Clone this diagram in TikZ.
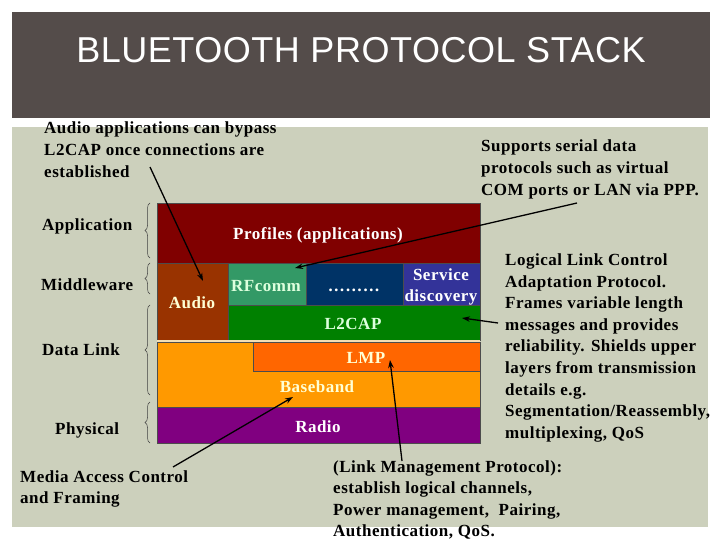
\documentclass[tikz,border=0pt]{standalone}
\usepackage{fontspec}
\setmainfont{Liberation Serif}
\newfontfamily\annofont{Liberation Serif}[LetterSpace=3]
\newfontfamily\titlefont{Liberation Sans}[LetterSpace=1.5]
\usetikzlibrary{arrows.meta,decorations.pathreplacing}
\definecolor{titlebg}{HTML}{544C4A}
\definecolor{panelbg}{HTML}{CCD0BC}
\definecolor{cprof}{HTML}{800000}
\definecolor{caudio}{HTML}{993300}
\definecolor{crfc}{HTML}{339966}
\definecolor{cdots}{HTML}{003366}
\definecolor{csd}{HTML}{333399}
\definecolor{cltwo}{HTML}{008000}
\definecolor{cbase}{HTML}{FF9900}
\definecolor{clmp}{HTML}{FF6600}
\definecolor{cradio}{HTML}{800080}
\definecolor{cgap}{HTML}{F2DEB4}
\definecolor{cream}{HTML}{FFFFD4}
\definecolor{mint}{HTML}{DDFFDD}
\newcommand{\mylines}[1]{\begin{tabular}[t]{@{}l@{}}#1\end{tabular}}
\begin{document}
\begin{tikzpicture}[x=1pt,y=-1pt,
  blk/.style={draw=black!70,line width=0.6pt,inner sep=0pt,outer sep=0pt,anchor=north west},
  txt/.style={inner sep=0pt,font=\annofont\bfseries\fontsize{17}{21.6}\selectfont},
  anno/.style={txt,anchor=base west,text=black},
  blab/.style={txt,anchor=base},
  brc/.style={draw=black!75,line width=0.5pt,decorate,decoration={brace,amplitude=5pt}},
  arr/.style={draw=black,line width=1.3pt,-{Stealth[length=8pt,width=5.5pt]}}]
\useasboundingbox (0,0) rectangle (720,540);
\fill[white] (0,0) rectangle (720,540);
% title bar and panel
\fill[titlebg] (12,12) rectangle (710,118);
\fill[panelbg] (12,127) rectangle (708,527);
\node[anchor=base,inner sep=0pt,text=white,font=\titlefont\fontsize{36}{36}\selectfont] (title) at (361,63) {BLUETOOTH PROTOCOL STACK};
% stack blocks
\node[blk,fill=cprof,minimum width=323pt,minimum height=60pt] (prof) at (157,203) {};
\node[blk,fill=caudio,minimum width=71pt,minimum height=77pt] (audio) at (157,263) {};
\node[blk,fill=crfc,minimum width=78pt,minimum height=42pt] (rfc) at (228,263) {};
\node[blk,fill=cdots,minimum width=97pt,minimum height=42pt] (dots) at (306,263) {};
\node[blk,fill=csd,minimum width=77pt,minimum height=42pt] (sd) at (403,263) {};
\node[blk,fill=cltwo,minimum width=252pt,minimum height=35pt] (ltwo) at (228,305) {};
\node[anchor=north west,fill=cgap,inner sep=0pt,minimum width=323pt,minimum height=2pt] (gap) at (157,340) {};
\node[blk,fill=cbase,minimum width=323pt,minimum height=65pt] (base) at (157,342) {};
\node[blk,fill=clmp,minimum width=227pt,minimum height=29pt] (lmp) at (253,342) {};
\node[blk,fill=cradio,minimum width=323pt,minimum height=36pt] (radio) at (157,407) {};
% block labels
\node[blab,text=white] (tprof) at (318,239.5) {Profiles (applications)};
\node[blab,text=cream] (taudio) at (192,308) {Audio};
\node[blab,text=mint] (trfc) at (266,291) {RFcomm};
\node[blab,text=white] (tdots) at (354,291) {………};
\node[blab,text=white] (tsd1) at (441,280) {Service};
\node[blab,text=white] (tsd2) at (441,301) {discovery};
\node[blab,text=mint] (tltwo) at (353,329) {L2CAP};
\node[blab,text=cream] (tlmp) at (366,363) {LMP};
\node[blab,text=cream] (tbase) at (317,392) {Baseband};
\node[blab,text=white] (tradio) at (318,432) {Radio};
% layer labels and braces
\node[anno] (lapp) at (42,230) {Application};
\node[anno] (lmid) at (41,290) {Middleware};
\node[anno] (ldl) at (42,355) {Data Link};
\node[anno] (lphy) at (55,434) {Physical};
\draw[brc] (150,258) -- (150,203);
\draw[brc] (150,294) -- (150,263);
\draw[brc] (150,395) -- (150,305);
\draw[brc] (150,443) -- (150,402);
% annotations
\node[anno] (nbypass) at (44,134) {\mylines{Audio applications can bypass\\L2CAP once connections are\\established}};
\node[anno] (nserial) at (481,152) {\mylines{Supports serial data\\protocols such as virtual\\COM ports or LAN via PPP.}};
\node[anno] (nlltwo) at (505,265.5) {\mylines{Logical Link Control\\Adaptation Protocol.\\Frames variable length\\messages and provides\\reliability. Shields upper\\layers from transmission\\details e.g.\\Segmentation/Reassembly,\\multiplexing, QoS}};
\node[anno] (nmac) at (20,482) {\mylines{Media Access Control\\and Framing}};
\node[anno] (nlmp) at (333,472) {\mylines{(Link Management Protocol):\\establish logical channels,\\Power management,\ \ Pairing,\\Authentication, QoS.}};
% arrows
\coordinate (a1s) at (150,167); \coordinate (a1e) at (203,281);
\coordinate (a2s) at (577,203); \coordinate (a2e) at (295,268);
\coordinate (a3s) at (498,323); \coordinate (a3e) at (462,318);
\coordinate (a4s) at (402,461); \coordinate (a4e) at (390,360);
\coordinate (a5s) at (173,467); \coordinate (a5e) at (293,397);
\draw[arr] (a1s) -- (a1e);
\draw[arr] (a2s) -- (a2e);
\draw[arr] (a3s) -- (a3e);
\draw[arr] (a4s) -- (a4e);
\draw[arr] (a5s) -- (a5e);
\end{tikzpicture}
\end{document}
